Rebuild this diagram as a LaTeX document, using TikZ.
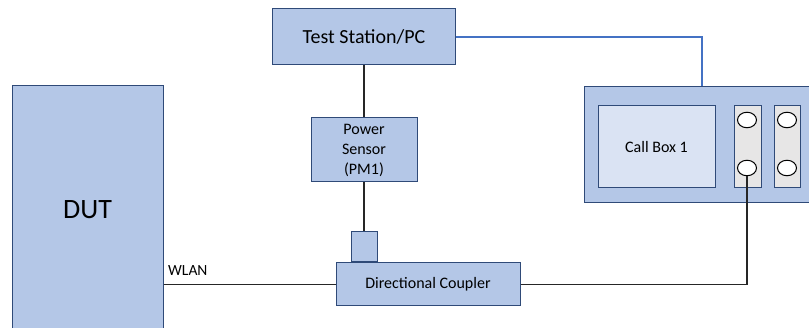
\documentclass[tikz,border=0pt]{standalone}
\usepackage{fontspec}
\setmainfont{Carlito}
\usetikzlibrary{shapes.geometric}

\definecolor{boxfill}{HTML}{B4C7E7}
\definecolor{boxline}{HTML}{2F4A78}
\definecolor{innerfill}{HTML}{DAE3F3}
\definecolor{portfill}{HTML}{E7E6E6}
\definecolor{ctrlline}{HTML}{4472C4}

\tikzset{
  blk/.style={draw=boxline, fill=boxfill, line width=1pt, inner sep=0pt, align=center},
  panel/.style={draw=boxline, fill=portfill, line width=1pt, minimum width=27pt, minimum height=82pt},
  port/.style={ellipse, draw=black, fill=white, line width=1pt, minimum width=19pt, minimum height=15.5pt, inner sep=0pt},
  rf/.style={draw=black!85, line width=1.2pt},
}

\begin{document}
\begin{tikzpicture}[x=1pt,y=-1pt]
        \useasboundingbox (0,0) rectangle (809,328);
        \clip (0,0) rectangle (809,328);
        % blocks
        \node[blk, minimum width=183pt, minimum height=56pt, font=\fontsize{20}{24}\selectfont] (station) at (364,37) {Test Station/PC};
        \node[blk, minimum width=106pt, minimum height=64pt, font=\fontsize{16}{20}\selectfont] (sensor) at (364,150) {Power\\Sensor\\(PM1)};
        \node[blk, minimum width=26pt, minimum height=30pt] (stub) at (364,247) {};
        \node[blk, minimum width=184pt, minimum height=43pt, font=\fontsize{16}{20}\selectfont] (coupler) at (428,284.5) {Directional Coupler};
        \node[blk, minimum width=151pt, minimum height=254pt, font=\fontsize{28}{32}\selectfont] (dut) at (87.5,213) {\raisebox{6pt}{DUT}};
        % call box
        \node[blk, minimum width=236pt, minimum height=116pt] (callbox) at (702,145) {};
        \node[blk, fill=innerfill, minimum width=117pt, minimum height=82pt, font=\fontsize{16}{20}\selectfont] (cbx) at (656.5,147) {Call Box 1};
        \node[panel] (pa) at (747.5,147) {};
        \node[panel, minimum width=26pt] (pb) at (787,147) {};
        \node[port] (pa1) at (747,120) {};
        \node[port] (pa2) at (747,168) {};
        \node[port] (pb1) at (787,120) {};
        \node[port] (pb2) at (787,168) {};
        % links
        \draw[draw=ctrlline, line width=1.2pt] (station.east) -- (callbox.north |- station.east) -- (callbox.north);
        \draw[rf] (station.south) -- (sensor.north);
        \draw[rf] (sensor.south) -- (stub.north);
        \draw[rf] (dut.east |- coupler.west) -- (coupler.west);
        \draw[rf] (coupler.east) -- (pa2.south |- coupler.east) -- (pa2.south);
        \coordinate [label={[font=\fontsize{15.5}{18}\selectfont, inner sep=0pt]above right:WLAN}] (wlan) at (168,276);
    \end{tikzpicture}
\end{document}
